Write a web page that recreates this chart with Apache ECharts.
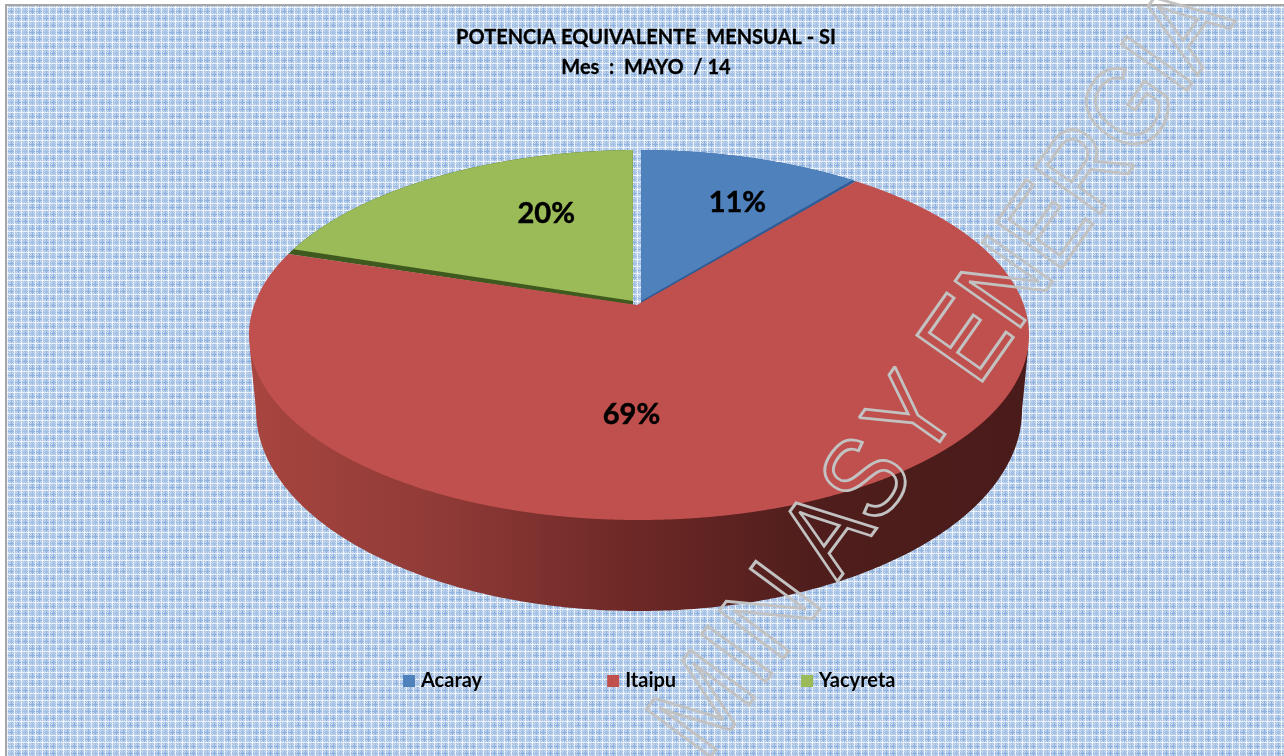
<!DOCTYPE html>
<html><head><meta charset="utf-8">
<style>html,body{margin:0;padding:0;background:#fff}#c{width:1284px;height:756px}</style>
<script src="https://cdn.jsdelivr.net/npm/echarts@6/dist/echarts.min.js"></script>
</head><body><div id="c"></div>
<script>
// ---- data ----
const categories = ['Acaray', 'Itaipu', 'Yacyreta'];
const shareValues = [11, 68.7, 20.3];
const titleLines = ['POTENCIA EQUIVALENTE  MENSUAL - SI', 'Mes  :  MAYO  / 14'];
const watermarkParts = ['MIN', 'AS', 'Y ENERGIA'];

// ---- layout of the perspective disc ----
const topDisc = {cx: 639, cy: 335, rx: 390, ry: 185, tilt: -0.168};
const baseDisc = {cx: 639, cy: 410, rx: 383, ry: 201};
const sliceColors = ['#4F81BD', '#C0504D', '#9BBB59'];
const sliceEdges = ['#2F5C94', null, '#3F5A1E'];
const gapX = {left: 633, right: 641};
const labelOffsets = [[18, 4], [-102, -37], [53, 1]];
const watermarkLayout = [
  {x: 753, y: 548, deg: 53.5, scaleX: 0.95},
  {x: 844, y: 421, deg: 53.5, scaleX: 0.86},
  {x: 1162, y: -31, deg: 54.9, scaleX: 0.86}
];
const total = shareValues.reduce((a, b) => a + b, 0);
const starts = shareValues.map((v, i) => shareValues.slice(0, i).reduce((a, b) => a + b, 0) / total);

function project(t) {
  const th = 2 * Math.PI * t, s = -Math.cos(th), c = Math.sin(th), a = topDisc.tilt;
  const d = 1 + a * s, k = Math.sqrt(1 - a * a);
  return [topDisc.cx + topDisc.rx * k * c / d, topDisc.cy + topDisc.ry * (s + a) / d];
}
function arc(t0, t1) {
  const pts = [];
  const n = Math.max(8, Math.ceil((t1 - t0) * 3000));
  for (let i = 0; i <= n; i++) pts.push(project(t0 + (t1 - t0) * i / n));
  return pts;
}
const apex = [topDisc.cx - 2, topDisc.cy + topDisc.ry * topDisc.tilt];

function wallPoints() {
  const pts = [];
  for (let i = 0; i <= 240; i++) {
    const ang = Math.PI * i / 240;
    pts.push([baseDisc.cx - baseDisc.rx * Math.cos(ang), baseDisc.cy + baseDisc.ry * Math.sin(ang)]);
  }
  pts.push([topDisc.cx + topDisc.rx - 1, topDisc.cy + 15], [topDisc.cx - topDisc.rx + 1, topDisc.cy + 15]);
  return pts;
}
const wallFill = new echarts.graphic.LinearGradient(0, 0, 1, 0, [
  {offset: 0, color: '#A8453F'}, {offset: 0.25, color: '#8F3A37'},
  {offset: 0.5, color: '#6C2826'}, {offset: 0.72, color: '#4F1E1C'}, {offset: 1, color: '#491B1A'}
]);

function labelEl(i) {
  const f0 = starts[i], f1 = f0 + shareValues[i] / total;
  const p = project((f0 + f1) / 2);
  const x = apex[0] + (p[0] - apex[0]) * 0.72 + labelOffsets[i][0];
  const y = apex[1] + (p[1] - apex[1]) * 0.72 + labelOffsets[i][1];
  return {type: 'text', z2: 20, style: {
    text: Math.round(shareValues[i]) + '%', x, y, align: 'center', verticalAlign: 'middle',
    font: 'bold 29px Lato', fill: '#000', stroke: '#000', lineWidth: 0.5}};
}
function renderSlice(params) {
  const i = params.seriesIndex;
  const f0 = starts[i], f1 = f0 + shareValues[i] / total;
  const kids = [];
  if (i === 1) {
    kids.push({type: 'polygon', shape: {points: wallPoints()}, style: {fill: wallFill}, z2: 1});
    kids.push({type: 'polygon', shape: {points: [[apex[0], apex[1] + 1]].concat(arc(f0, f1))}, style: {fill: sliceColors[i]}, z2: 5});
  } else {
    const keep = i === 0 ? p => p[0] >= gapX.right : p => p[0] <= gapX.left;
    const ex = i === 0 ? gapX.right : gapX.left;
    const under = arc(f0, f1).filter(keep);
    const inset = i === 0 ? [f0, f1 - 0.002] : [f0 + 0.005, f1];
    const over = arc(inset[0], inset[1]).filter(keep);
    kids.push({type: 'polygon', shape: {points: [[ex, apex[1] + 1]].concat(under)}, style: {fill: sliceEdges[i]}, z2: 2});
    kids.push({type: 'polygon', shape: {points: [[ex, apex[1] - 3]].concat(over)}, style: {fill: sliceColors[i]}, z2: 3});
  }
  kids.push(labelEl(i));
  return {type: 'group', children: kids};
}

// ---- hatched paper tile ----
function hatchTile() {
  const c = document.createElement('canvas'), P = 7, N = 28;
  c.width = c.height = N;
  const g = c.getContext('2d');
  for (let y = 0; y < N; y++) for (let x = 0; x < N; x++) {
    const mx = x % P, my = y % P;
    let col;
    if (mx === 0 && my === 0) col = '#FFFFFF';
    else if (mx === 0 || my === 0) col = (x + y) % 2 ? '#F4F8FC' : '#DCE8F5';
    else if (mx === 4 || my === 4) col = (Math.floor(x / 14) + Math.floor(y / 14)) % 2 === 0 ? '#8FB2DE' : '#A4C1E5';
    else if ((mx + my) % 2 === 0) col = '#A9C4E6';
    else col = '#C7D9EF';
    g.fillStyle = col; g.fillRect(x, y, 1, 1);
  }
  return c;
}

const watermarkEls = watermarkParts.map((text, i) => ({
  type: 'text', z: 50, x: watermarkLayout[i].x, y: watermarkLayout[i].y,
  rotation: watermarkLayout[i].deg * Math.PI / 180, scaleX: watermarkLayout[i].scaleX,
  style: {text, x: 0, y: 0, align: 'right', font: '116px "Liberation Sans"',
    fill: 'transparent', stroke: '#C2C2C2', lineWidth: 3}
}));

const chart = echarts.init(document.getElementById('c'), null, {renderer: 'canvas'});
chart.setOption({
  animation: false,
  backgroundColor: {image: hatchTile(), repeat: 'repeat'},
  title: {
    text: titleLines.join('\n'), left: 641, top: 18, textAlign: 'center',
    textStyle: {fontFamily: 'Lato', fontWeight: 'bold', fontSize: 20, lineHeight: 30, color: '#000',
      textBorderColor: '#000', textBorderWidth: 0.3}
  },
  legend: {
    data: categories, left: 398, top: 666, itemWidth: 12, itemHeight: 12, itemGap: 125,
    icon: 'rect', selectedMode: false,
    textStyle: {fontFamily: 'Lato', fontWeight: 'bold', fontSize: 20, color: '#000', padding: [0, 0, 0, 1]}
  },
  graphic: [
    {type: 'rect', z: 1, shape: {x: 0, y: 0, width: 5, height: 756}, style: {fill: '#fff'}},
    {type: 'rect', z: 1, shape: {x: 0, y: 0, width: 1284, height: 4}, style: {fill: '#fff'}},
    {type: 'rect', z: 1, shape: {x: 5, y: 4, width: 2, height: 752}, style: {fill: '#A6A6A6'}},
    {type: 'rect', z: 1, shape: {x: 5, y: 4, width: 1279, height: 2}, style: {fill: '#A6A6A6'}}
  ].concat(watermarkEls),
  series: categories.map((name, i) => ({
    name, type: 'custom', coordinateSystem: 'none', silent: true,
    z: i === 1 ? 4 : 2, clip: false,
    itemStyle: {color: sliceColors[i]},
    data: [shareValues[i]],
    renderItem: renderSlice
  }))
});
</script></body></html>
